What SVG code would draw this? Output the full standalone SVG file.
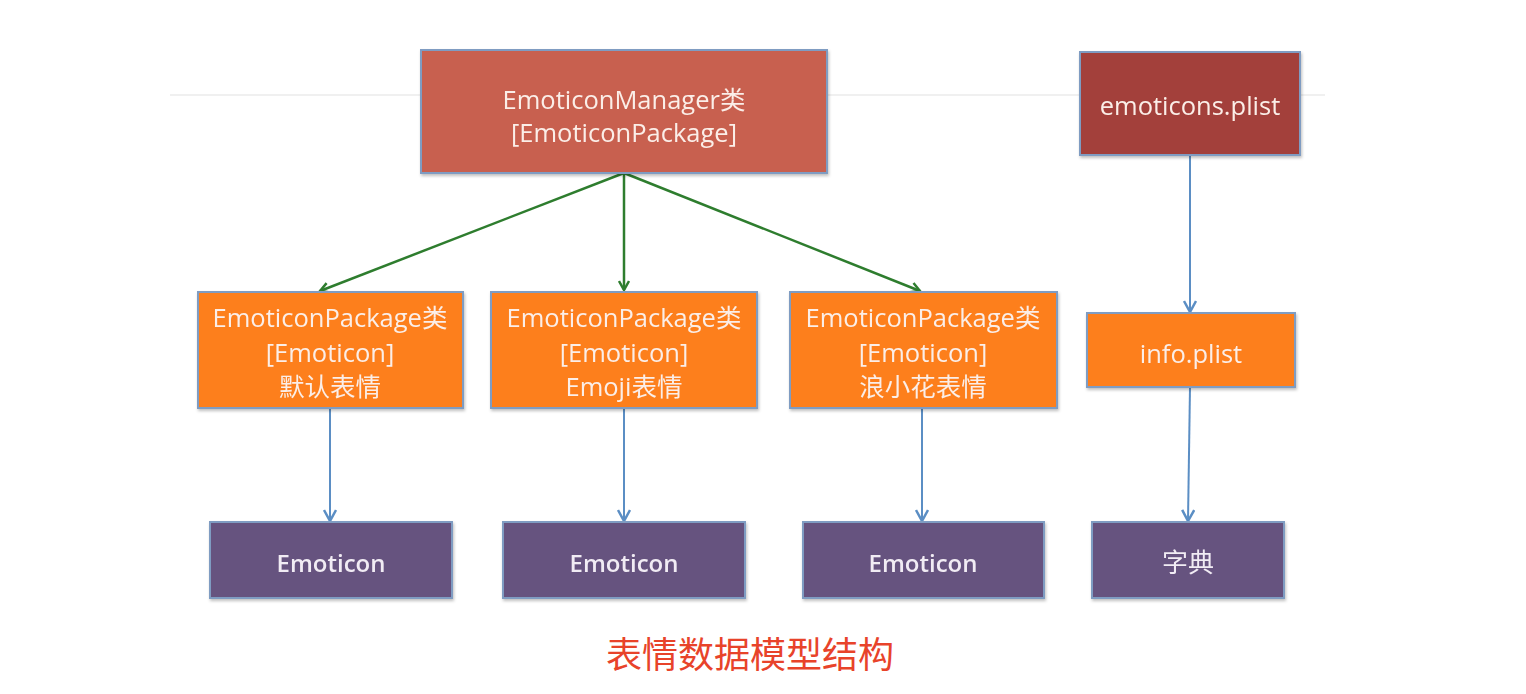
<svg xmlns="http://www.w3.org/2000/svg" width="1526" height="694" viewBox="0 0 1526 694">
<style>
.box{stroke:#7f9cc2;stroke-width:2}
.t{font-family:"Open Sans","Noto Sans CJK SC",sans-serif;font-size:25.5px;fill:#fbeee8;text-anchor:middle}
.tb{font-family:"Open Sans","Noto Sans CJK SC",sans-serif;font-size:24px;fill:#f1ecf4;text-anchor:middle;font-weight:600}
.tc{font-family:"Noto Sans CJK SC",sans-serif;font-size:26px;fill:#f1ecf4;text-anchor:middle}
.g{stroke:#2e7d2e;stroke-width:2.5;fill:none}
.b{stroke:#5b8ec4;stroke-width:2;fill:none}
</style>
<defs>
<marker id="ag" markerWidth="12" markerHeight="12" refX="10" refY="6" orient="auto" markerUnits="userSpaceOnUse"><path d="M1,1 L10,6 L1,11" fill="none" stroke="#2e7d2e" stroke-width="2.5"/></marker>
<marker id="ab" markerWidth="14" markerHeight="14" refX="12" refY="7" orient="auto" markerUnits="userSpaceOnUse"><path d="M1,1 L12,7 L1,13" fill="none" stroke="#5b8ec4" stroke-width="2.5"/></marker>
<filter id="sh" x="-5%" y="-5%" width="110%" height="115%"><feDropShadow dx="1" dy="2" stdDeviation="1.5" flood-color="#000" flood-opacity="0.25"/></filter>
</defs>
<rect width="1526" height="694" fill="#ffffff"/>
<line x1="170" y1="95" x2="1325" y2="95" stroke="#f0f0f0" stroke-width="2"/>
<g id="connectors">
<path class="g" d="M624,173 L320,291" marker-end="url(#ag)"/>
<path class="g" d="M624,173 L624,290" marker-end="url(#ag)"/>
<path class="g" d="M624,173 L920,291" marker-end="url(#ag)"/>
<path class="b" d="M330,408 L330,521" marker-end="url(#ab)"/>
<path class="b" d="M624,408 L624,521" marker-end="url(#ab)"/>
<path class="b" d="M922,408 L922,521" marker-end="url(#ab)"/>
<path class="b" d="M1190,155 L1190,312" marker-end="url(#ab)"/>
<path class="b" d="M1190,387 L1188,521" marker-end="url(#ab)"/>
</g>
<g id="manager" filter="url(#sh)">
<rect class="box" x="421" y="50" width="406" height="123" fill="#c8604f"/>
<text class="t" x="624" y="109">EmoticonManager类</text>
<text class="t" x="624" y="142">[EmoticonPackage]</text>
</g>
<g id="emoticons-plist" filter="url(#sh)">
<rect class="box" x="1080" y="52" width="220" height="103" fill="#a3403a"/>
<text class="t" x="1190" y="115">emoticons.plist</text>
</g>
<g id="pkg1" filter="url(#sh)">
<rect class="box" x="198" y="292" width="265" height="116" fill="#fd7f1c"/>
<text class="t" x="330" y="327">EmoticonPackage类</text>
<text class="t" x="330" y="362">[Emoticon]</text>
<text class="t" x="330" y="396">默认表情</text>
</g>
<g id="pkg2" filter="url(#sh)">
<rect class="box" x="491" y="292" width="266" height="116" fill="#fd7f1c"/>
<text class="t" x="624" y="327">EmoticonPackage类</text>
<text class="t" x="624" y="362">[Emoticon]</text>
<text class="t" x="624" y="396">Emoji表情</text>
</g>
<g id="pkg3" filter="url(#sh)">
<rect class="box" x="790" y="292" width="267" height="116" fill="#fd7f1c"/>
<text class="t" x="923" y="327">EmoticonPackage类</text>
<text class="t" x="923" y="362">[Emoticon]</text>
<text class="t" x="923" y="396">浪小花表情</text>
</g>
<g id="info-plist" filter="url(#sh)">
<rect class="box" x="1087" y="313" width="208" height="74" fill="#fd7f1c"/>
<text class="t" x="1191" y="363">info.plist</text>
</g>
<g id="emo1" filter="url(#sh)">
<rect class="box" x="210" y="522" width="242" height="76" fill="#66527f"/>
<text class="tb" x="331" y="572">Emoticon</text>
</g>
<g id="emo2" filter="url(#sh)">
<rect class="box" x="503" y="522" width="242" height="76" fill="#66527f"/>
<text class="tb" x="624" y="572">Emoticon</text>
</g>
<g id="emo3" filter="url(#sh)">
<rect class="box" x="803" y="522" width="241" height="76" fill="#66527f"/>
<text class="tb" x="923" y="572">Emoticon</text>
</g>
<g id="dict" filter="url(#sh)">
<rect class="box" x="1092" y="522" width="192" height="76" fill="#66527f"/>
<text class="tc" x="1188" y="572">字典</text>
</g>
<text x="750" y="668" font-family="'Noto Sans CJK SC',sans-serif" font-size="36" fill="#e8432a" text-anchor="middle">表情数据模型结构</text>
</svg>
